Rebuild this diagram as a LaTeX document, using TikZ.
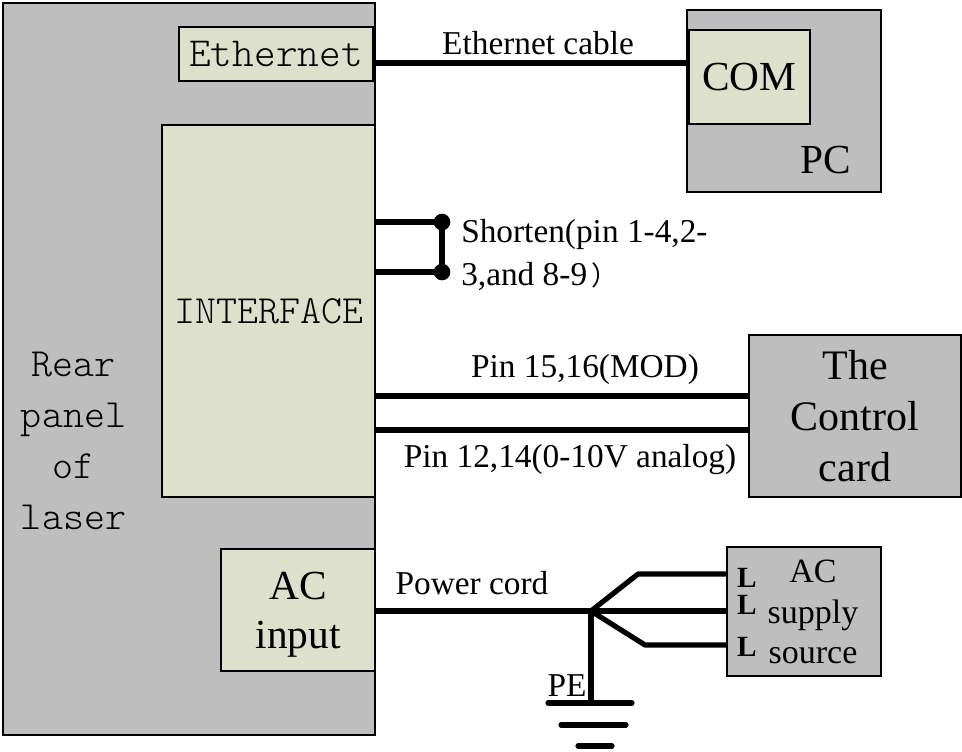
\documentclass[tikz,border=0pt]{standalone}
\usepackage{fontspec}
\setmainfont{Liberation Serif}
\newfontfamily\monof{Latin Modern Mono Light}
\newfontfamily\cjkf{Noto Sans CJK SC}
\newcommand{\fs}[2]{\fontsize{#1}{#2}\selectfont}
\begin{document}
\begin{tikzpicture}[x=0.75pt,y=-0.75pt,
  graybox/.style={draw=black,line width=1.5pt,fill=panelgray,minimum width=#1,inner sep=0pt,align=center},
  greenbox/.style={draw=black,line width=1.3pt,fill=panelgreen,inner sep=0pt,align=center},
  wire/.style={line width=3.9pt,black},
  shortwire/.style={line width=5pt,black},
  txt/.style={inner sep=0pt,align=center,text=black},
  dotn/.style={circle,fill=black,inner sep=0pt,minimum size=12.5pt}]
\definecolor{panelgray}{HTML}{BEBEBE}
\definecolor{panelgreen}{HTML}{DDE1CC}
\useasboundingbox (0,0) rectangle (962,751);
% boxes
\node[graybox=279pt,minimum height=549pt] (rear) at (189,369) {};
\node[greenbox,minimum width=145.5pt,minimum height=40.5pt,font=\monof\fs{31}{36}] (eth) at (276,54) {Ethernet};
\node[greenbox,minimum width=159.75pt,minimum height=279pt,font=\monof\fs{30}{36}] (iface) at (268.5,311) {INTERFACE};
\node[greenbox,minimum width=115.5pt,minimum height=91.5pt] (acin) at (298,610) {};
\node[txt,font=\fs{31}{37}] (acintxt) at (298,615) {AC\\input};
\node[graybox=145.5pt,minimum height=136.5pt] (pc) at (784,101) {};
\node[greenbox,minimum width=90.75pt,minimum height=70.5pt,font=\fs{31}{36}] (com) at (749.5,77) {COM};
\node[graybox=159pt,minimum height=121.5pt,font=\fs{31.5}{38.25}] (ctrl) at (855,416) {The\\Control\\card};
\node[graybox=115.5pt,minimum height=96.75pt] (acs) at (804,611.5) {};
% text
\node[txt,font=\monof\fs{30}{38.25}] (reartxt) at (73.5,441) {Rear\\panel\\of\\laser};
\node[txt,font=\fs{31}{36}] (pctxt) at (826,160) {PC};
\node[txt,font=\fs{25.5}{30.4},anchor=center] (acstxt) at (813,612) {AC\\supply\\source};
\node[txt,font=\fs{25}{27}] (ethlab) at (538,43) {Ethernet cable};
\node[txt,font=\fs{25}{32},align=left,anchor=west] (shlab) at (461,255) {Shorten(pin 1-4,2-\\3,and 8-9\hspace{3pt}{\cjkf\fontsize{20}{32}\selectfont ）}};
\node[txt,font=\fs{25}{27}] (modlab) at (585,369) {Pin 15,16(MOD)};
\node[txt,font=\fs{25}{27}] (anlab) at (570,460) {Pin 12,14(0-10V analog)};
\node[txt,font=\fs{25}{27}] (powlab) at (472,583) {Power cord};
\node[txt,font=\fs{25}{27}] (pelab) at (567,686) {PE};
\node[txt,font=\bfseries\fs{22}{24}] (l1) at (747,578) {L};
\node[txt,font=\bfseries\fs{22}{24}] (l2) at (747,605) {L};
\node[txt,font=\bfseries\fs{22}{24}] (l3) at (747,647) {L};
% coordinates
\coordinate (ethA) at (rear.east |- 0,63);
\coordinate (ethB) at (pc.west |- 0,63);
\coordinate (s1) at (iface.east |- 0,222);
\coordinate (s2) at (iface.east |- 0,272);
\coordinate (m1) at (iface.east |- 0,396);
\coordinate (m2) at (ctrl.west |- 0,396);
\coordinate (a1) at (iface.east |- 0,430);
\coordinate (a2) at (ctrl.west |- 0,430);
\coordinate (p1) at (acin.east |- 0,611);
\coordinate (j) at (591,611);
\coordinate (u1) at (638,574);
\coordinate (u2) at (acs.west |- 0,574);
\coordinate (c2) at (acs.west |- 0,611);
\coordinate (d1) at (645,645);
\coordinate (d2) at (acs.west |- 0,645);
\coordinate (g1) at (591,703);
\coordinate (g1l) at (548,703);
\coordinate (g1r) at (632,703);
\coordinate (g2l) at (561,725);
\coordinate (g2r) at (626,725);
\coordinate (g3l) at (578,746);
\coordinate (g3r) at (612,746);
% connectors
\draw[wire] (ethA) -- (ethB);
\node[dotn] (dot1) at (442,222) {};
\node[dotn] (dot2) at (442,272) {};
\draw[shortwire] (s1) -- (dot1.center);
\draw[shortwire] (s2) -- (dot2.center);
\draw[shortwire] (dot1.center) -- (dot2.center);
\draw[wire] (m1) -- (m2);
\draw[wire] (a1) -- (a2);
\draw[wire] (p1) -- (c2);
\draw[wire,line join=round] (j) -- (u1) -- (u2);
\draw[wire,line join=round] (j) -- (d1) -- (d2);
\draw[wire] (j) -- (g1);
\draw[wire,line cap=round] (g1l) -- (g1r);
\draw[wire,line cap=round] (g2l) -- (g2r);
\draw[wire,line cap=round] (g3l) -- (g3r);
\end{tikzpicture}
\end{document}
